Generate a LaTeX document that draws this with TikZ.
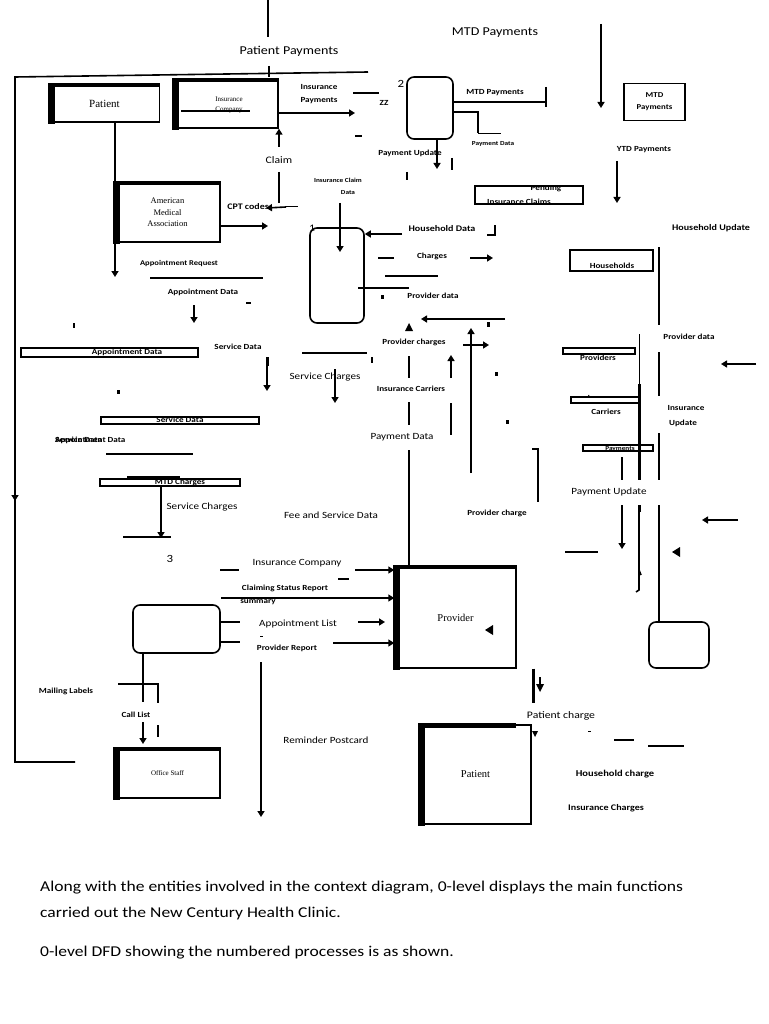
\documentclass[tikz,border=0pt]{standalone}
\usepackage{fontspec}
\setmainfont{Liberation Serif}
\newfontfamily\calfont[FakeStretch=1.17]{Carlito}
\usetikzlibrary{arrows.meta}
\newcommand\entbars[1]{%
  \fill ([xshift=-1pt,yshift=1pt]#1.north west) rectangle ([xshift=6pt,yshift=-1pt]#1.south west);
  \fill ([xshift=-1pt,yshift=1pt]#1.north west) rectangle ([yshift=-2.5pt]#1.north east);}
\begin{document}
\begin{tikzpicture}[x=1pt,y=-1pt,
  ln/.style={line width=1.6pt},
  tln/.style={line width=0.7pt},
  fat/.style={line width=3pt},
  arr/.style={line width=1.6pt,-{Triangle[length=6pt,width=7pt]}},
  lbl/.style={font=\calfont\bfseries\fontsize{7.8}{9}\selectfont, inner sep=0},
  lblb/.style={font=\calfont\bfseries\fontsize{8.6}{10}\selectfont, inner sep=0},
  tiny/.style={font=\calfont\bfseries\fontsize{6.2}{7.5}\selectfont, inner sep=0},
  lblr/.style={font=\calfont\fontsize{9.5}{11}\selectfont, inner sep=0},
  big/.style={font=\calfont\fontsize{12}{14}\selectfont, inner sep=0},
  ent/.style={draw, line width=1.4pt, fill=white, inner sep=0, align=center},
  proc/.style={draw, line width=1.6pt, rounded corners=7pt, inner sep=0},
  store/.style={draw, line width=1.3pt, inner sep=0},
  body/.style={font=\calfont\fontsize{15}{17}\selectfont, inner sep=0, anchor=base west},
]
\useasboundingbox[fill=white] (0,0) rectangle (768,1024);

% ---------- top ----------
\draw[ln] (268,0) -- (268,37);
\draw[ln] (269,66) -- (269,77);
\node[big] (pp) at (289,51) {Patient Payments};
\node[big] (mtdp) at (495,33) {MTD Payments};
\draw[ln] (368,72) -- (15,77) -- (15,762) -- (75,762);
\draw[arr] (15,470) -- (15,501);

% ---------- entities ----------
\node[ent, minimum width=110, minimum height=37, font=\fontsize{11}{13}\selectfont] (pat1) at (104.5,103.5) {Patient};
\entbars{pat1}
\node[ent, minimum width=104, minimum height=48] (insco) at (226,104) {};
\entbars{insco}
\node[font=\fontsize{7}{8}\selectfont, inner sep=0] (insco1) at (229,99) {Insurance};
\node[font=\fontsize{7}{8}\selectfont, inner sep=0] (insco2) at (229,110) {Company};
\draw[line width=1.2pt] ([xshift=8pt,yshift=-7pt]insco.west) -- (250,111);

\node[ent, minimum width=105, minimum height=59, font=\fontsize{8.5}{11.5}\selectfont] (ama) at (167.5,212.5) {American\\Medical\\Association};
\entbars{ama}

\node[ent, minimum width=105, minimum height=49, font=\fontsize{7}{8}\selectfont] (staff) at (167.5,773.5) {Office Staff};
\entbars{staff}

\node[ent, minimum width=121, minimum height=101, font=\fontsize{10.5}{12}\selectfont] (prov) at (455.5,617.5) {Provider};
\entbars{prov}
\fill (485,630) -- (493,625) -- (493,635) -- cycle;

\node[ent, minimum width=111, minimum height=99, font=\fontsize{10.5}{12}\selectfont] (pat2) at (475.5,774.5) {Patient};
\fill ([xshift=-1pt,yshift=1pt]pat2.north west) rectangle ([xshift=6pt,yshift=-1pt]pat2.south west);
\fill ([xshift=-1pt,yshift=1pt]pat2.north west) rectangle (516,728);

% ---------- processes ----------
\node[proc, minimum width=54, minimum height=95] (p1) at (337,275.5) {};
\node[font=\calfont\fontsize{10}{12}\selectfont, inner sep=0] (n1) at (312,228) {1};
\node[proc, minimum width=46, minimum height=62] (p2) at (430,108) {};
\node[font=\calfont\fontsize{11}{12}\selectfont, inner sep=0] (n2) at (401,84) {2};
\node[proc, minimum width=87, minimum height=48] (p3) at (176.5,629) {};
\node[font=\calfont\fontsize{11}{12}\selectfont, inner sep=0] (n3) at (170,559) {3};
\node[proc, minimum width=60, minimum height=46] (p4) at (679,645) {};

% ---------- upper left flows ----------
\draw[arr] ([yshift=-9pt]insco.east) -- (355,113);
\node[lbl] (lip1) at (319,87) {Insurance};
\node[lbl] (lip2) at (319,101) {Payments};
\draw[ln] (353,93) -- (379,93);
\node[lbl] (zz) at (384,103) {ZZ};
\draw[ln] (355,136) -- (362,136);

\draw[arr] (279,147) -- (insco.south -| 279,0);
\node[lblr, font=\calfont\fontsize{10}{12}\selectfont] (claim) at (279,160) {Claim};
\draw[ln] (279,172) -- (279,203);
\node[lbl, font=\calfont\bfseries\fontsize{8.5}{10}\selectfont] (cpt) at (248,207) {CPT codes};
\draw[tln] (285,206) -- (298,206);
\draw[arr] (286,207) -- (266,208);
\draw[arr] ([yshift=-13.5pt]ama.east) -- (268,226);

\draw[arr] (pat1.south) ++(10.5,0) -- (115,277);
\node[lbl, font=\calfont\bfseries\fontsize{7.3}{9}\selectfont] (apreq) at (179,264) {Appointment Request};
\draw[ln] (150,278) -- (263,278);

\draw[arr] (340,203) -- (340,252);
\node[tiny] (icd1) at (338,180) {Insurance Claim};
\node[tiny] (icd2) at (348,193) {Data};

\draw[arr] (402,234) -- (p1.east |- 0,234);
\node[lblb] (hhd) at (442,229) {Household Data};
\draw[ln] (487,235) -- (495,235) -- (495,225);
\node[lbl] (chg) at (432,256) {Charges};
\draw[ln] (378,258) -- (394,258);
\draw[arr] (470,258) -- (493,258);
\draw[ln] (385,276) -- (438,276);
\draw[ln] (358,288) -- (409,288);
\fill (381,295) rectangle (384,299);
\node[lbl] (pdat) at (433,296) {Provider data};
\draw[arr] (505,319) -- (421,319);
\fill (487,322) rectangle (490,327);
\fill (405,331) -- (409,323) -- (413,331) -- cycle;
\node[lbl] (pchg) at (414,342) {Provider charges};
\draw[ln] (409,356) -- (409,378);
\node[lbl] (icar) at (411,389) {Insurance Carriers};
\draw[ln] (409,402) -- (409,425);
\node[lblr] (pdata) at (402,437) {Payment Data};
\draw[ln] (409,450) -- (prov.north -| 409,0);
\draw[arr] (451,378) -- (451,355);
\draw[ln] (451,403) -- (451,435);
\draw[arr] (471,473) -- (471,328);
\draw[arr] (463,345) -- (489,345);
\fill (495,372) rectangle (498,376);
\fill (506,420) rectangle (509,424);
\draw[ln] (532,449) -- (538,449) -- (538,502);
\node[lbl] (pchg2) at (497,513) {Provider charge};

% ---------- process 2 area ----------
\draw[arr] (601,24) -- (601,108);
\node[store, minimum width=61, minimum height=37, font=\calfont\bfseries\fontsize{7.5}{12}\selectfont, align=center] (mtdbox) at (654.5,102) {MTD\\Payments};
\node[lbl] (mtdl) at (495,93) {MTD Payments};
\draw[ln] (p2.east |- 0,102) -- (546,102);
\draw[ln] (546,87) -- (546,107);
\draw[ln] (p2.east |- 0,112) -- (478,112) -- (478,133);
\draw[tln] (478,133) -- (501,133);
\node[tiny] (pdl) at (493,144) {Payment Data};
\node[lbl] (pupd) at (410,153) {Payment Update};
\draw[arr] (437,139) -- (437,169);
\draw[ln] (452,158) -- (452,170);
\draw[ln] (407,172) -- (407,180);

\node[store, minimum width=108, minimum height=18] (pic) at (529,195) {};
\begin{scope}
\clip (pic.north west) rectangle (pic.south east);
\node[lbl] (pic1) at (546,188) {Pending};
\node[lbl] (pic2) at (519,202) {Insurance Claims};
\end{scope}

\node[lbl] (ytd) at (644,150) {YTD Payments};
\draw[arr] (617,161) -- (617,203);
\node[lblb] (hhu) at (711,228) {Household Update};

% ---------- right data stores ----------
\node[store, minimum width=83, minimum height=21] (hh) at (611.5,260.5) {};
\node[lbl] (hht) at (612,266) {Households};
\node[lbl] (provt) at (598,358) {Providers};
\node[store, fill=white, minimum width=72, minimum height=6] (provs) at (599,351) {};
\node[lbl] (ict1) at (606,398) {Insurance};
\node[store, fill=white, minimum width=68, minimum height=6] (ics) at (605,400) {};
\node[lbl] (ict2) at (606,412) {Carriers};
\node[store, minimum width=70, minimum height=6] (pays) at (618,448) {};
\node[tiny] (payt) at (620,449) {Payments};

\draw[ln] (659,247) -- (659,325);
\node[lbl] (pdr) at (689,337) {Provider data};
\draw[ln] (659,352) -- (659,396);
\node[lbl] (iu1) at (686,408) {Insurance};
\node[lbl] (iu2) at (683,423) {Update};
\draw[ln] (659,433) -- (659,480);
\draw[ln] (659,505) -- (p4.north -| 659,0);

\draw[tln] (639,334) -- (639,384);
\draw[fat] (639,384) -- (639,480);
\draw[fat] (639,505) -- (639,512);
\draw[ln] (639,512) -- (639,590) -- (636,592);
\draw[ln] (639,570) -- (641,575);

\draw[ln] (622,457) -- (622,480);
\node[lblr] (pupd2) at (609,492) {Payment Update};
\draw[arr] (622,505) -- (622,549);
\draw[ln] (565,552) -- (598,552);
\draw[arr] (756,364) -- (721,364);
\draw[arr] (738,520) -- (702,520);
\fill (672,552) -- (680,547) -- (680,557) -- cycle;

% ---------- middle left ----------
\node[lbl] (apd) at (203,292) {Appointment Data};
\draw[arr] (194,305) -- (194,323);
\draw[ln] (246,303) -- (251,303);
\draw[ln] (74,323) -- (74,328);
\node[store, minimum width=177, minimum height=9] (apds) at (109.5,352.5) {};
\node[lbl] (apdt) at (127,352) {Appointment Data};
\node[lbl] (svd) at (238,347) {Service Data};
\draw[ln] (302,353) -- (367,353);
\draw[ln] (372,357) -- (372,363);
\draw[fat] (267,357) -- (267,366);
\draw[arr] (267,366) -- (267,391);
\node[lblr] (svc1) at (325,377) {Service Charges};
\draw[arr] (335,369) -- (335,403);
\fill (117,390) rectangle (120,394);
\node[store, minimum width=158, minimum height=7] (svds) at (180,420.5) {};
\node[lbl] (svdt) at (180,420) {Service Data};
\node[lbl, anchor=west] (apd2) at (55,440) {Appointment Data};
\node[lbl, anchor=west] (svd2) at (55,440) {Service Data};
\draw[ln] (106,454) -- (193,454);
\draw[fat] (127,477) -- (180,477);
\node[store, minimum width=140, minimum height=7] (mtdc) at (170,482.5) {};
\node[lbl] (mtdct) at (180,482) {MTD Charges};
\draw[arr] (161,486) -- (161,538);
\node[lblr] (svc2) at (202,507) {Service Charges};
\draw[ln] (123,537) -- (171,537);
\node[lblr] (fee) at (331,515) {Fee and Service Data};

% ---------- process 3 flows ----------
\node[lblr] (ico) at (297,563) {Insurance Company};
\draw[ln] (220,570) -- (239,570);
\draw[arr] (355,570) -- (prov.west |- 0,570);
\draw[ln] (338,579) -- (349,579);
\node[lbl] (csr1) at (285,588) {Claiming Status Report};
\node[lbl] (csr2) at (258,602) {summary};
\draw[arr] (221,598) -- (prov.west |- 0,598);
\draw[ln] (p3.east |- 0,622) -- (240,622);
\draw[ln] (p3.east |- 0,642) -- (240,642);
\node[lblr] (apl) at (298,624) {Appointment List};
\draw[arr] (358,622) -- (385,622);
\draw[tln] (260,636) -- (263,636);
\node[lbl] (prep) at (287,648) {Provider Report};
\draw[arr] (333,643) -- (prov.west |- 0,643);
\draw[arr] (261,662) -- (261,817);
\node[lblr] (rpc) at (326,740) {Reminder Postcard};
\draw[ln] (p3.south -| 143,0) -- (143,702);
\draw[arr] (143,722) -- (143,744);
\draw[ln] (118,684) -- (158,684) -- (158,703);
\draw[ln] (158,725) -- (158,737);
\node[lbl] (mail) at (66,691) {Mailing Labels};
\node[lbl] (call) at (136,715) {Call List};

% ---------- bottom right ----------
\draw[fat] (prov.south -| 533,0) -- (533,703);
\draw[ln] (540,677) -- (540,686);
\fill (536,684) -- (544,684) -- (540,692) -- cycle;
\node[lblr, font=\calfont\fontsize{10}{12}\selectfont] (ptc) at (561,716) {Patient charge};
\fill (532,731) -- (538,731) -- (535,737) -- cycle;
\draw[tln] (588,731) -- (591,731);
\draw[ln] (614,740) -- (634,740);
\draw[ln] (648,746) -- (684,746);
\node[lblb, font=\calfont\bfseries\fontsize{9}{10}\selectfont] (hhc) at (615,774) {Household charge};
\node[lblb] (inc) at (606,808) {Insurance Charges};

% ---------- text ----------
\node[body] (t1) at (40,891) {Along with the entities involved in the context diagram, 0-level displays the main functions};
\node[body] (t2) at (40,917) {carried out the New Century Health Clinic.};
\node[body] (t3) at (40,956) {0-level DFD showing the numbered processes is as shown.};
\end{tikzpicture}
\end{document}
